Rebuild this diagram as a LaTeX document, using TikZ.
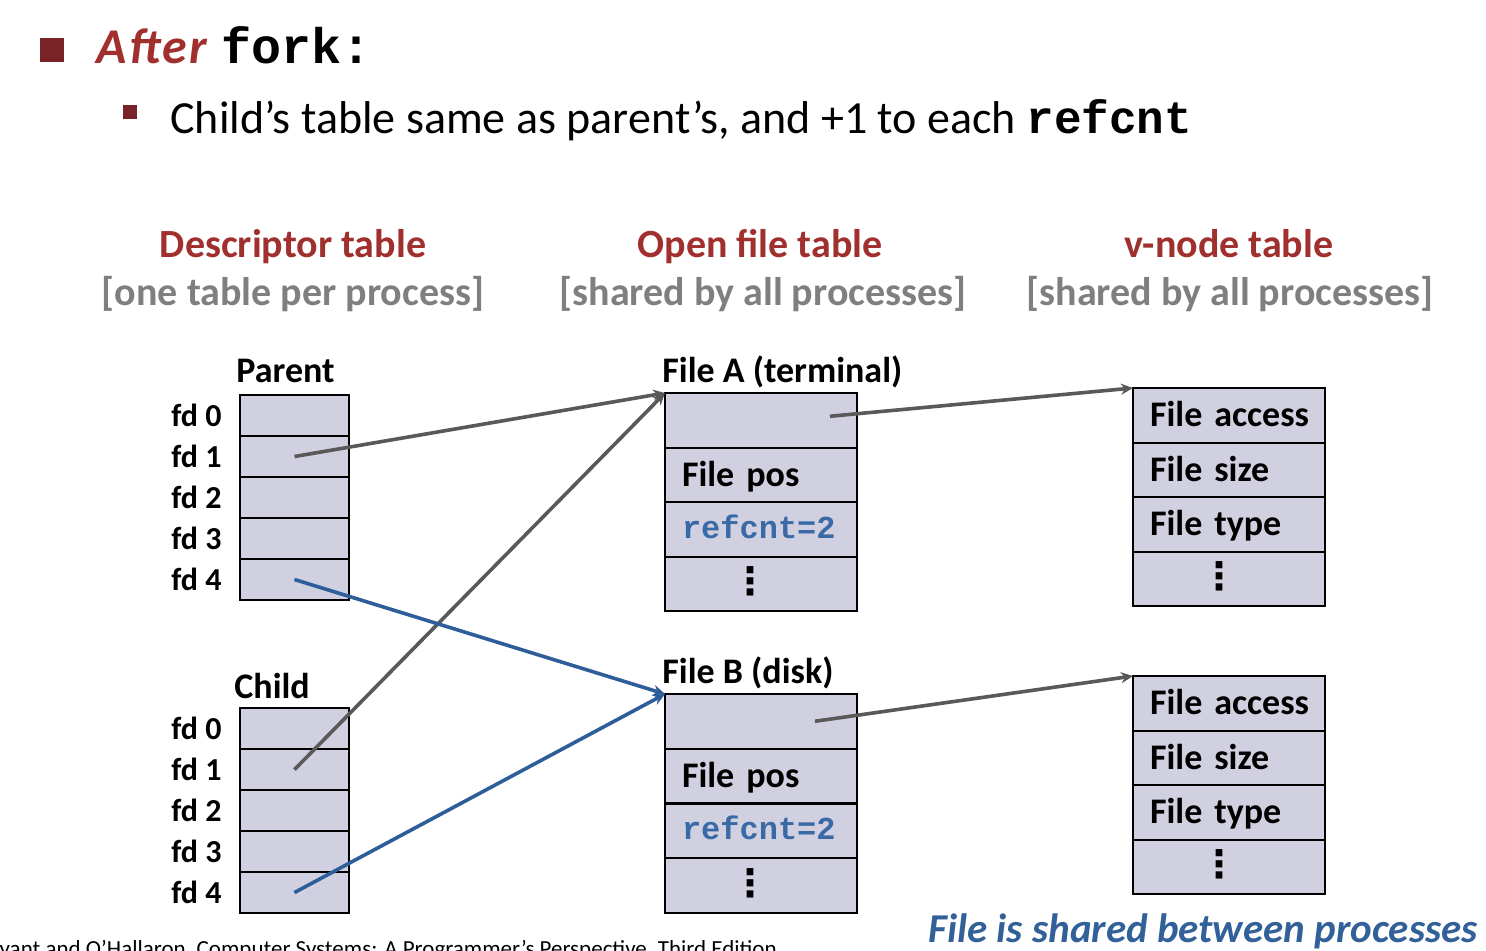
\documentclass[tikz,border=0pt]{standalone}
\usepackage{fontspec}
\setmainfont{Carlito}
\newfontfamily\monofont{Liberation Mono}
\newfontfamily\symfont{DejaVu Sans}
\usetikzlibrary{arrows.meta}

\definecolor{cellfill}{RGB}{208,208,224}
\definecolor{linkgray}{RGB}{89,89,89}
\definecolor{linkblue}{RGB}{46,94,154}
\definecolor{headred}{RGB}{160,48,46}
\definecolor{bulletred}{RGB}{122,35,38}
\definecolor{notegray}{RGB}{127,127,127}
\definecolor{codeblue}{RGB}{58,106,166}
\definecolor{noteblue}{RGB}{50,96,152}

\newcommand\fsize[1]{\fontsize{#1}{#1}\selectfont}

\tikzset{
  fdcell/.style={draw, line width=1pt, fill=cellfill, minimum width=54.5pt,
    minimum height=20.5pt, inner sep=0pt, outer sep=0pt, anchor=north west},
  entcell/.style={draw, line width=1pt, fill=cellfill, minimum width=96pt,
    minimum height=27.25pt, inner xsep=8.5pt, inner ysep=0pt, outer sep=0pt,
    text width=79pt, align=left, anchor=north west,
    font=\fsize{18pt}\bfseries,
    execute at begin node={\hyphenpenalty=10000\hbadness=10000\hfuzz=20pt\relax},
    text height=11.6pt, text depth=0pt},
  codecell/.style={entcell, font=\fsize{16pt}\monofont\bfseries,
    text=codeblue, text height=9pt},
  dots/.style={inner sep=0pt, font=\fsize{19pt}\symfont\bfseries},
  fdlabel/.style={anchor=base east, inner sep=0pt, font=\fsize{16pt}\bfseries},
  tablabel/.style={anchor=base west, inner sep=0pt, font=\fsize{18pt}\bfseries},
  colhead/.style={anchor=base, inner sep=0pt, font=\fsize{20pt}\bfseries, text=headred},
  colnote/.style={anchor=base, inner sep=0pt, font=\fsize{20pt}\bfseries, text=notegray},
  link/.style={line width=1.8pt, -{Stealth[length=6pt,width=5.5pt]}},
}

\begin{document}
\begin{tikzpicture}[x=0.5pt, y=-0.5pt]
\useasboundingbox (0,0) rectangle (1486,950);
\clip (0,0) rectangle (1486,950);

% heading bullets and text
\fill[bulletred] (40,38) rectangle (64,62);
\node[anchor=base west, inner sep=0pt] (title) at (96,63)
  {\fsize{25pt}\bfseries\itshape\color{headred}\addfontfeature{LetterSpace=5}After\ \upshape\monofont\color{black}fork:};
\fill[bulletred] (123,105) rectangle (137,119);
\node[anchor=base west, inner sep=0pt] (subtitle) at (170,133)
  {\fsize{23pt}Child’s table same as parent’s, and +1 to each \monofont\bfseries refcnt};

% column headings
\node[colhead] (hdesc) at (293,257) {Descriptor table};
\node[colnote] (ndesc) at (293,305) {[one table per process]};
\node[colhead] (hopen) at (760,257) {Open file table};
\node[colnote] (nopen) at (763,305) {[shared by all processes]};
\node[colhead] (hvnode) at (1229,257) {v-node table};
\node[colnote] (nvnode) at (1230,305) {[shared by all processes]};

% descriptor tables
\node[tablabel] (parent) at (236,382) {Parent};
\node[tablabel] (child) at (234,698) {Child};
\foreach \i in {0,...,4}{
  \node[fdcell] (p\i) at (240,{395+41*\i}) {};
  \node[fdlabel] (pl\i) at ([xshift=-9pt,yshift=-5.25pt]p\i.west) {fd \i};
  \node[fdcell] (c\i) at (240,{708+41*\i}) {};
  \node[fdlabel] (cl\i) at ([xshift=-9pt,yshift=-5.25pt]c\i.west) {fd \i};
}

% open file table entries
\node[tablabel] (fileA) at (662,382) {File A (terminal)};
\node[entcell] (fa1) at (665,393) {};
\node[entcell] (fa2) at (665,447.5) {File~pos};
\node[codecell] (fa3) at (665,502) {refcnt=2};
\node[entcell] (fa4) at (665,556.5) {};
\node[dots] (fa4d) at ([xshift=-5.5pt,yshift=1pt]fa4.center) {⋮};

\node[tablabel] (fileB) at (662,683) {File B (disk)};
\node[entcell] (fb1) at (665,694) {};
\node[entcell] (fb2) at (665,748.75) {File~pos};
\node[codecell] (fb3) at (665,803.5) {refcnt=2};
\node[entcell] (fb4) at (665,858.25) {};
\node[dots] (fb4d) at ([xshift=-5.5pt,yshift=1pt]fb4.center) {⋮};

% v-node table entries
\node[entcell] (va1) at (1133,388) {File~access};
\node[entcell] (va2) at (1133,442.5) {File~size};
\node[entcell] (va3) at (1133,497) {File~type};
\node[entcell] (va4) at (1133,551.5) {};
\node[dots] (va4d) at ([xshift=-5pt,yshift=1pt]va4.center) {⋮};

\node[entcell] (vb1) at (1133,676) {File~access};
\node[entcell] (vb2) at (1133,730.5) {File~size};
\node[entcell] (vb3) at (1133,785) {File~type};
\node[entcell] (vb4) at (1133,839.5) {};
\node[dots] (vb4d) at ([xshift=-5pt,yshift=1pt]vb4.center) {⋮};

% references
\draw[link, linkgray] (p1.center) -- (fa1.north west);
\draw[link, linkgray] (c1.center) -- (fa1.north west);
\draw[link, linkblue] (p4.center) -- (fb1.north west);
\draw[link, linkblue] (c4.center) -- (fb1.north west);
\draw[link, linkgray] ([xshift=-13.5pt,yshift=2pt]fa1.east) -- (va1.north west);
\draw[link, linkgray] ([xshift=-21pt]fb1.east) -- (vb1.north west);

% notes
\node[anchor=base east, inner sep=0pt] (shared) at (1478,942)
  {\fsize{20.5pt}\bfseries\itshape\color{noteblue}File is shared between processes};
\node[anchor=base east, inner sep=0pt] (credit) at (777,956)
  {\fsize{11.5pt}Bryant and O’Hallaron, Computer Systems: A Programmer’s Perspective, Third Edition};
\end{tikzpicture}
\end{document}
